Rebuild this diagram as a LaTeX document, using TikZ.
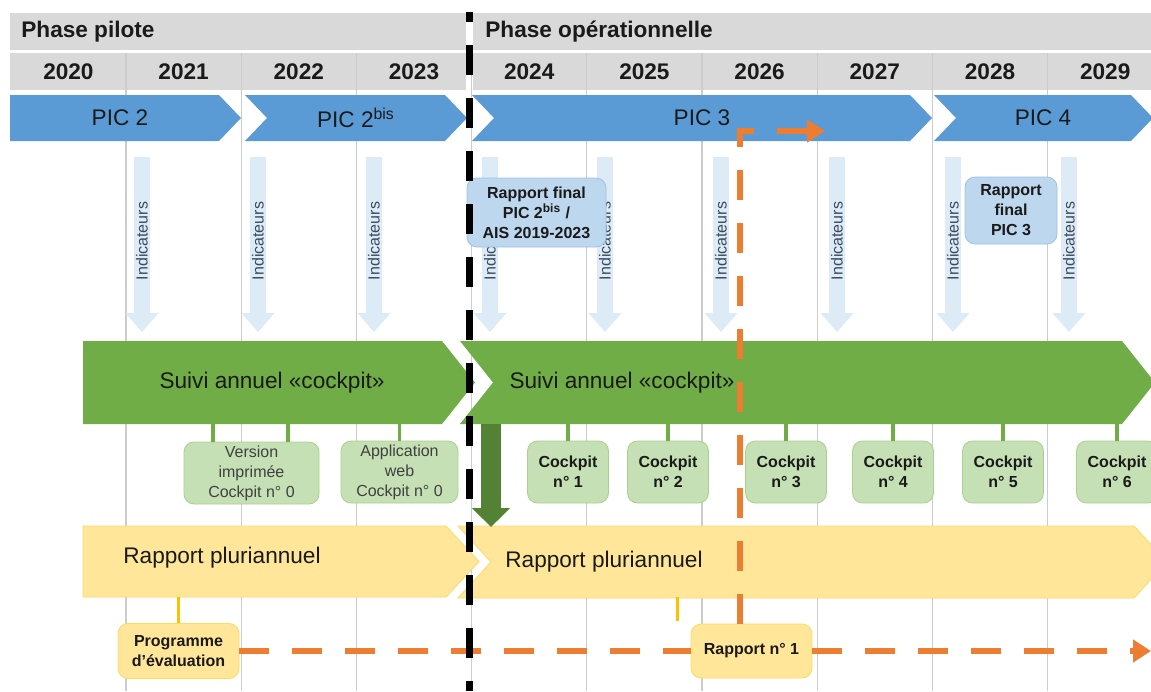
\documentclass[tikz,border=0pt]{standalone}
\usepackage{fontspec}
\setmainfont{Liberation Sans}
\usepackage{tikz}
\usetikzlibrary{arrows.meta}
\usetikzlibrary{calc}
\usepackage{xcolor}

\definecolor{bandgray}{HTML}{D9D9D9}
\definecolor{gridgray}{HTML}{CCCCCC}
\definecolor{picblue}{HTML}{5B9BD5}
\definecolor{indblue}{HTML}{DDEBF7}
\definecolor{indtext}{HTML}{3B4A5E}
\definecolor{rffill}{HTML}{BDD7EE}
\definecolor{rfdraw}{HTML}{9DC3E6}
\definecolor{barGreen}{HTML}{70AD47}
\definecolor{darkGreen}{HTML}{548235}
\definecolor{cfill}{HTML}{C5E0B4}
\definecolor{cdraw}{HTML}{A9D18E}
\definecolor{barYellow}{HTML}{FFE699}
\definecolor{ydraw}{HTML}{FFD966}
\definecolor{goldline}{HTML}{FFC000}
\definecolor{orangeline}{HTML}{ED7D31}
\definecolor{txtdark}{HTML}{1A1A1A}
\definecolor{txtgray}{HTML}{404040}

\begin{document}
\begin{tikzpicture}[x=0.5pt, y=-0.5pt]
        % ================= 样式定义 =================
        \tikzset{
            % 标题栏与年份文字
            phasetxt/.style={font=\bfseries\fontsize{11.3}{13}\selectfont, text=txtdark, anchor=west, inner sep=0pt},
            yeartxt/.style={font=\bfseries\fontsize{11.3}{13}\selectfont, text=txtdark, inner sep=0pt},
            % 长条箭头上的文字
            bartxt/.style={font=\fontsize{11.3}{13}\selectfont, text=txtdark, inner sep=0pt},
            % 网格竖线
            gridline/.style={draw=gridgray, line width=0.6pt},
            % 浅蓝色指标箭头
            indarrow/.style={draw=indblue, line width=8pt, -{Triangle[length=9.5pt, width=16pt]}},
            indtxt/.style={rotate=90, font=\fontsize{8}{9}\selectfont, text=indtext, inner sep=0pt},
            % 圆角小框
            rfbox/.style={draw=rfdraw, fill=rffill, rounded corners=5pt, align=center, inner sep=1pt,
                font=\bfseries\fontsize{8}{10}\selectfont, text=txtdark},
            cbox/.style={draw=cdraw, fill=cfill, rounded corners=5pt, align=center, inner sep=1pt,
                minimum width=40.5pt, minimum height=31pt, font=\bfseries\fontsize{8}{10}\selectfont, text=txtdark},
            ybox/.style={draw=ydraw, fill=barYellow, rounded corners=5pt, align=center, inner sep=1pt,
                font=\bfseries\fontsize{8}{10}\selectfont, text=txtdark},
            % 连接线
            gconn/.style={draw=barGreen, line width=1.8pt},
            yconn/.style={draw=goldline, line width=1.5pt},
            dgarrow/.style={draw=darkGreen, line width=10pt, -{Triangle[length=9.5pt, width=18.5pt]}},
            orangedash/.style={draw=orangeline, line width=3pt, dash pattern=on 15pt off 11.5pt},
            orangetip/.style={-{Triangle[length=9pt, width=11pt]}},
            divider/.style={draw=black, line width=3.5pt, dash pattern=on 15pt off 11.5pt, dash phase=10pt}
        }

        \useasboundingbox (0,0) rectangle (1151,691);
        \clip (0,0) rectangle (1151,691);
        \fill[white] (0,0) rectangle (1151,691);

        % ================= 标题栏 =================
        \fill[bandgray] (10,13) rectangle (466,50);
        \fill[bandgray] (473,13) rectangle (1151,50);
        \fill[bandgray] (10,53) rectangle (466,90);
        \fill[bandgray] (473,53) rectangle (1151,90);

        % 年份分隔竖线
        \foreach \k in {1,...,9} {
            \coordinate (gt\k) at (10.8+115.2*\k, 53);
            \coordinate (gb\k) at (10.8+115.2*\k, 691);
            \draw[gridline] (gt\k) -- (gb\k);
        }

        \node[phasetxt] (pilote) at (21,32) {Phase pilote};
        \node[phasetxt] (operation) at (485,32) {Phase opérationnelle};
        \foreach \y [count=\k from 0] in {2020,...,2029} {
            \node[yeartxt] (y\y) at (68.4+115.2*\k, 72) {\y};
        }

        % ================= PIC 箭头 =================
        \fill[picblue] (10,95) -- (219,95) -- (241,118) -- (219,141) -- (10,141) -- cycle;
        \foreach \a/\b in {245/467, 472/932, 934/1153} {
            \fill[picblue] (\a,95) -- (\b-22,95) -- (\b,118) -- (\b-22,141) -- (\a,141) -- (\a+22,118) -- cycle;
        }
        \node[bartxt] (pic2) at (120,118) {PIC 2};
        \node[bartxt] (pic2b) at (356,118) {PIC 2\textsuperscript{bis}};
        \node[bartxt] (pic3) at (702,118) {PIC 3};
        \node[bartxt] (pic4) at (1043,118) {PIC 4};

        % ================= 指标箭头 =================
        \foreach \x [count=\i] in {142,258,374,490,605,721,837,953,1069} {
            \coordinate (ia\i) at (\x,157);
            \coordinate (ib\i) at (\x,332);
            \draw[indarrow] (ia\i) -- (ib\i);
            \node[indtxt] (ind\i) at (\x,241) {Indicateurs};
        }

        \node[rfbox, minimum width=69.5pt, minimum height=34.5pt] (rf1) at (536.5,212.5)
            {Rapport final\\PIC 2\textsuperscript{bis} /\\AIS 2019-2023};
        \node[rfbox, minimum width=46pt, minimum height=33.5pt] (rf2) at (1011,210.5)
            {Rapport\\final\\PIC 3};

        % ================= 绿色: 年度跟踪 =================
        \fill[barGreen] (83,341) -- (442,341) -- (475,382.5) -- (442,424) -- (83,424) -- cycle;
        \fill[barGreen] (460,341) -- (1122,341) -- (1155,382.5) -- (1122,424) -- (460,424) -- (493,382.5) -- cycle;
        \coordinate (gbar) at (0,424);
        \node[bartxt] (suivi1) at (272,382.5) {Suivi annuel «cockpit»};
        \node[bartxt] (suivi2) at (622,382.5) {Suivi annuel «cockpit»};

        % 第 0 期 cockpit (普通字体)
        \node[cbox, font=\fontsize{8}{10}\selectfont, text=txtgray, minimum width=67.5pt] (c0a) at (251.5,473)
            {Version\\imprimée\\Cockpit n° 0};
        \node[cbox, font=\fontsize{8}{10}\selectfont, text=txtgray, minimum width=58.5pt] (c0b) at (399.5,472)
            {Application\\web\\Cockpit n° 0};
        \coordinate (v1) at ([xshift=-19.25pt]c0a.north);
        \coordinate (v2) at ([xshift=18.25pt]c0a.north);
        \draw[gconn] (v1) -- (v1 |- gbar);
        \draw[gconn] (v2) -- (v2 |- gbar);
        \draw[gconn] (c0b.north) -- (c0b.north |- gbar);

        % cockpit n° 1 ... n° 6
        \foreach \x [count=\i] in {568,668,786,893,1003,1117} {
            \node[cbox] (c\i) at (\x,472) {Cockpit\\n° \i};
            \draw[gconn] (c\i.north) -- (c\i.north |- gbar);
        }

        % ================= 黄色: 多年报告 =================
        \fill[barYellow, draw=ydraw, line width=0.4pt] (83,526) -- (446,526) -- (479,561.5) -- (446,597) -- (83,597) -- cycle;
        \fill[barYellow, draw=ydraw, line width=0.4pt] (458,526) -- (1134,526) -- (1167,562) -- (1134,598) -- (458,598) -- (491,562) -- cycle;
        \coordinate (ybar) at (0,597);
        \node[bartxt] (rp1) at (222,558) {Rapport pluriannuel};
        \node[bartxt] (rp2) at (604,562) {Rapport pluriannuel};

        % 深绿色向下箭头
        \coordinate (ga) at (491,424);
        \coordinate (gb) at (491,527);
        \draw[dgarrow] (ga) -- (gb);

        \node[ybox, minimum width=60.5pt, minimum height=27.5pt] (prog) at (178.5,651)
            {Programme\\d'évaluation};
        \node[ybox, minimum width=60.5pt, minimum height=27pt] (r1) at (751.5,651) {Rapport n° 1};
        \draw[yconn] (prog.north) -- (prog.north |- ybar);
        \coordinate (stub) at (677,621);
        \draw[yconn] (stub) -- (stub |- ybar);

        % ================= 橙色虚线 =================
        \coordinate (turn) at (740,131);
        \coordinate (tipA) at (825,131);
        \coordinate (tipB) at (1151,651);
        \draw[orangedash, orangetip] (turn |- r1.north) -- (turn) -- (tipA);
        \draw[orangedash] (prog.east) -- (r1.west);
        \draw[orangedash, orangetip] (r1.east) -- (tipB);

        % ================= 阶段分界线 =================
        \coordinate (div1) at (469,12);
        \coordinate (div2) at (469,691);
        \draw[divider] (div1) -- (div2);

    \end{tikzpicture}
\end{document}
